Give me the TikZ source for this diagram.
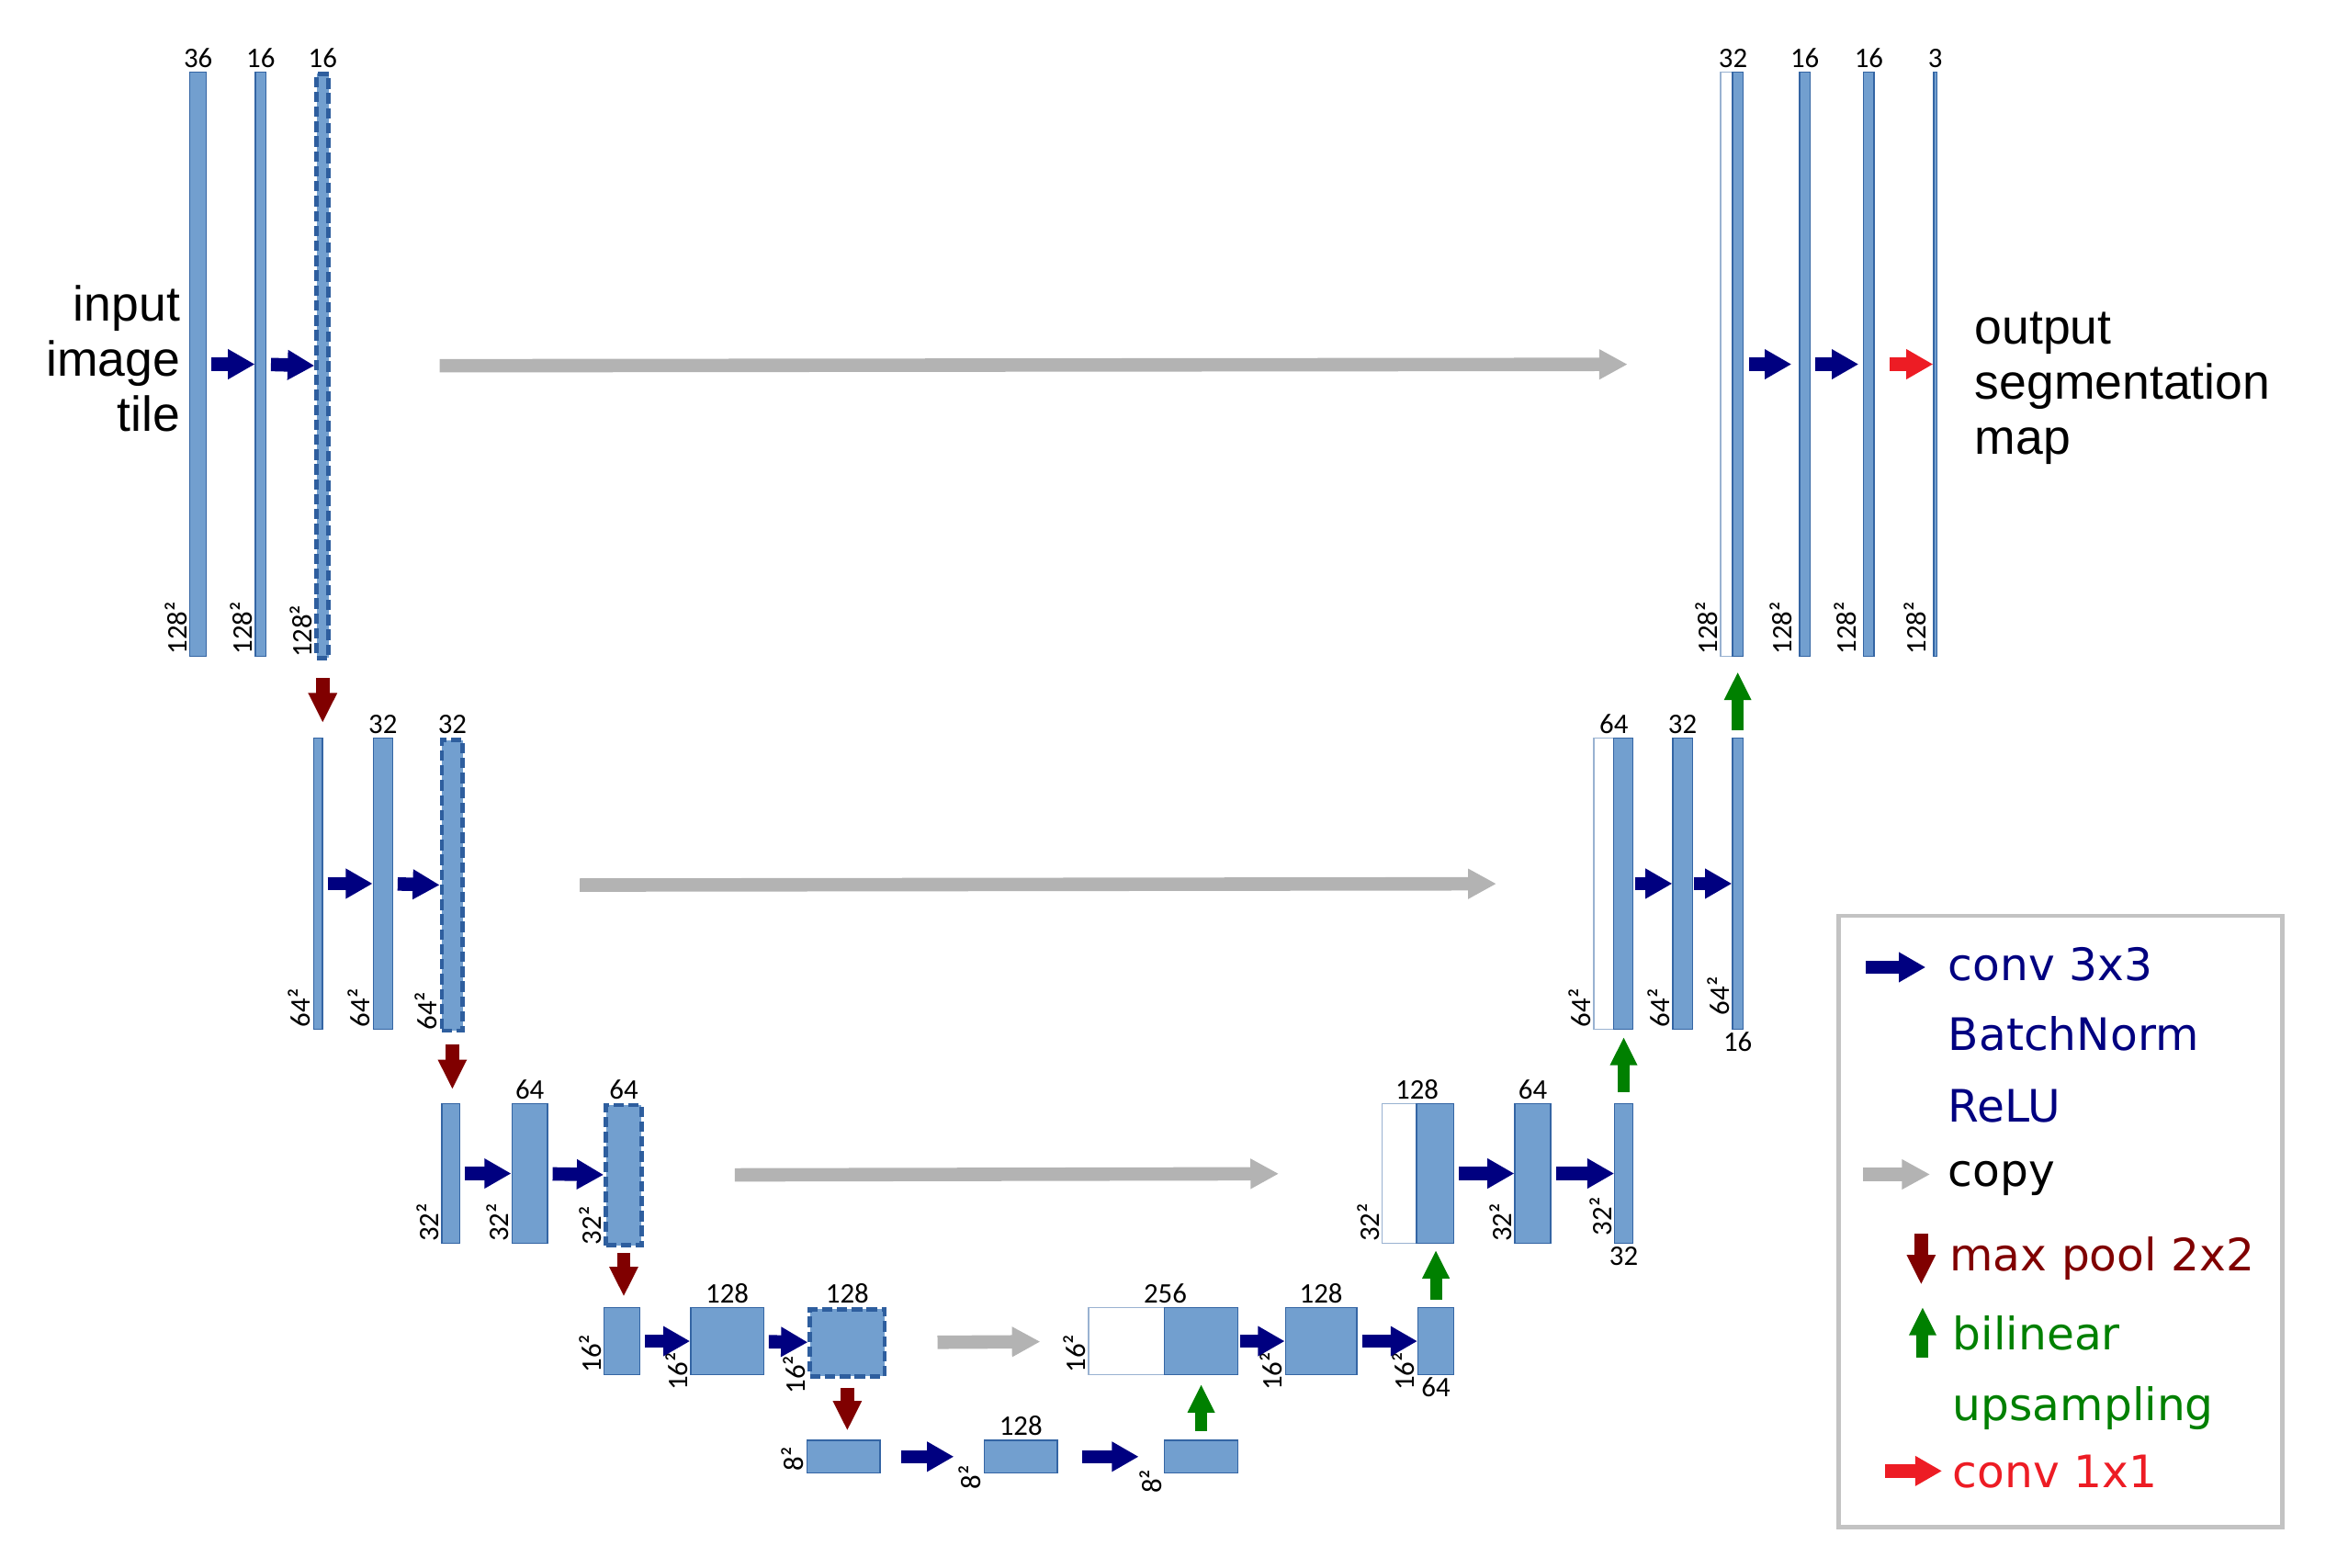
\documentclass[tikz,border=0pt]{standalone}
\usepackage{fontspec}
\setmainfont{Liberation Sans}
\newfontfamily\numfont{Carlito}
\newfontfamily\legfont{DejaVu Sans}
\usetikzlibrary{arrows.meta,positioning}
\definecolor{barfill}{HTML}{729FCF}
\definecolor{barline}{HTML}{3465A4}
\definecolor{dashblue}{HTML}{2E5E9E}
\definecolor{convblue}{HTML}{000080}
\definecolor{pooldark}{HTML}{800000}
\definecolor{upgreen}{HTML}{008000}
\definecolor{outred}{HTML}{ED1C24}
\definecolor{copygray}{HTML}{B3B3B3}
\definecolor{legline}{HTML}{C3C3C3}
\tikzset{
  fmap/.style={draw=barline, fill=barfill, line width=0.8pt, inner sep=0pt, anchor=north west},
  keep/.style={fmap, draw=dashblue, line width=3pt, dash pattern=on 7pt off 3pt},
  cpybox/.style={fmap, draw=barline!50, fill=white},
  row1/.style={minimum height=392},
  row2/.style={minimum height=195},
  row3/.style={minimum height=94},
  row4/.style={minimum height=45},
  row5/.style={minimum height=22},
  num/.style={font=\numfont\fontsize{19}{20}\selectfont, inner sep=2.5pt},
  dimlab/.style={num, rotate=90, anchor=south west, inner sep=1.5pt},
  conv/.style={draw=convblue, line width=9pt, -{Triangle[length=18pt,width=19pt]}, shorten <=3pt},
  outconv/.style={conv, draw=outred},
  copyarr/.style={draw=copygray, line width=9pt, -{Triangle[length=19pt,width=19pt]}},
  pool/.style={draw=pooldark, line width=9pt, -{Triangle[length=20pt,width=18pt]}},
  upsam/.style={draw=upgreen, line width=8pt, -{Triangle[length=19pt,width=17pt]}},
  bigtxt/.style={font=\fontsize{33}{37}\selectfont, inner sep=0pt},
  legtxt/.style={font=\legfont\fontsize{30}{36}\selectfont, inner sep=0pt, anchor=base west},
}

\begin{document}
\begin{tikzpicture}[x=1pt,y=-1pt]
  \useasboundingbox (0,0) rectangle (1568,1052);

  %encoder, level 1
  \node[fmap,row1,minimum width=11] (e1a) at (127,48) {};
  \node[fmap,row1,minimum width=7] (e1b) at (171,48) {};
  \node[keep,row1,minimum width=8] (e1c) at (211,48) {};
  \node[num,above] (n1a) at (e1a.north) {36};
  \node[num,above] (n1b) at (e1b.north) {16};
  \node[num,above] (n1c) at (e1c.north) {16};
  \node[dimlab] (s1a) at (e1a.south west) {128²};
  \node[dimlab] (s1b) at (e1b.south west) {128²};
  \node[dimlab] (s1c) at (e1c.south west) {128²};
  \node[bigtxt,align=right,anchor=east] (intile) at ([xshift=-6pt,yshift=4pt]e1a.west) {input\\image\\tile};

  %encoder, level 2
  \node[fmap,row2,minimum width=6] (e2a) at (210,495) {};
  \node[fmap,row2,minimum width=13] (e2b) at (250,495) {};
  \node[keep,row2,minimum width=14] (e2c) at (295,495) {};
  \node[num,above] (n2b) at (e2b.north) {32};
  \node[num,above] (n2c) at (e2c.north) {32};
  \node[dimlab] (s2a) at (e2a.south west) {64²};
  \node[dimlab] (s2b) at (e2b.south west) {64²};
  \node[dimlab] (s2c) at (e2c.south west) {64²};

  %encoder, level 3
  \node[fmap,row3,minimum width=12] (e3a) at (296,740) {};
  \node[fmap,row3,minimum width=24] (e3b) at (343,740) {};
  \node[keep,row3,minimum width=24] (e3c) at (405,740) {};
  \node[num,above] (n3b) at (e3b.north) {64};
  \node[num,above] (n3c) at (e3c.north) {64};
  \node[dimlab] (s3a) at (e3a.south west) {32²};
  \node[dimlab] (s3b) at (e3b.south west) {32²};
  \node[dimlab] (s3c) at (e3c.south west) {32²};

  %encoder, level 4
  \node[fmap,row4,minimum width=24] (e4a) at (405,877) {};
  \node[fmap,row4,minimum width=49] (e4b) at (463,877) {};
  \node[keep,row4,minimum width=50] (e4c) at (542,877) {};
  \node[num,above] (n4b) at (e4b.north) {128};
  \node[num,above] (n4c) at (e4c.north) {128};
  \node[dimlab] (s4a) at (e4a.south west) {16²};
  \node[dimlab] (s4b) at ([yshift=-12pt]e4b.south west) {16²};
  \node[dimlab] (s4c) at ([yshift=-12pt]e4c.south west) {16²};

  %bottom level
  \node[fmap,row5,minimum width=49] (b5a) at (541,966) {};
  \node[fmap,row5,minimum width=49] (b5b) at (660,966) {};
  \node[fmap,row5,minimum width=49] (b5c) at (781,966) {};
  \node[num,above] (n5b) at (b5b.north) {128};
  \node[dimlab] (s5a) at (b5a.south west) {8²};
  \node[dimlab] (s5b) at ([yshift=-12pt]b5b.south west) {8²};
  \node[dimlab] (s5c) at ([yshift=-15pt]b5c.south west) {8²};

  %decoder, level 4
  \node[cpybox,row4,minimum width=51] (d4w) at (730,877) {};
  \node[fmap,row4,minimum width=49] (d4a) at (781,877) {};
  \node[fmap,row4,minimum width=48] (d4b) at (862,877) {};
  \node[fmap,row4,minimum width=24] (d4c) at (951,877) {};
  \node[num,above] (n4w) at (d4w.north east) {256};
  \node[num,above] (n4d) at (d4b.north) {128};
  \node[num,below,inner sep=1.5pt] (n4e) at (d4c.south) {64};
  \node[dimlab] (s4w) at (d4w.south west) {16²};
  \node[dimlab] (s4d) at ([yshift=-12pt]d4b.south west) {16²};
  \node[dimlab] (s4e) at ([yshift=-12pt]d4c.south west) {16²};

  %decoder, level 3
  \node[cpybox,row3,minimum width=23] (d3w) at (927,740) {};
  \node[fmap,row3,minimum width=25] (d3a) at (950,740) {};
  \node[fmap,row3,minimum width=24] (d3b) at (1016,740) {};
  \node[fmap,row3,minimum width=12] (d3c) at (1083,740) {};
  \node[num,above] (n3w) at (d3w.north east) {128};
  \node[num,above] (n3d) at (d3b.north) {64};
  \node[num,below,inner sep=1.5pt] (n3e) at (d3c.south) {32};
  \node[dimlab] (s3w) at (d3w.south west) {32²};
  \node[dimlab] (s3d) at (d3b.south west) {32²};
  \node[dimlab] (s3e) at ([yshift=4pt]d3c.south west) {32²};

  %decoder, level 2
  \node[cpybox,row2,minimum width=13] (d2w) at (1069,495) {};
  \node[fmap,row2,minimum width=13] (d2a) at (1082,495) {};
  \node[fmap,row2,minimum width=13] (d2b) at (1122,495) {};
  \node[fmap,row2,minimum width=7] (d2c) at (1162,495) {};
  \node[num,above] (n2w) at (d2w.north east) {64};
  \node[num,above] (n2d) at (d2b.north) {32};
  \node[num,below,inner sep=1.5pt] (n2e) at (d2c.south) {16};
  \node[dimlab] (s2w) at (d2w.south west) {64²};
  \node[dimlab] (s2d) at (d2b.south west) {64²};
  \node[dimlab] (s2e) at ([yshift=8pt]d2c.south west) {64²};

  %decoder, level 1
  \node[cpybox,row1,minimum width=8] (d1w) at (1154,48) {};
  \node[fmap,row1,minimum width=7] (d1a) at (1162,48) {};
  \node[fmap,row1,minimum width=7] (d1b) at (1207,48) {};
  \node[fmap,row1,minimum width=7] (d1c) at (1250,48) {};
  \node[fmap,row1,minimum width=2] (outmap) at (1297,48) {};
  \node[num,above] (n1w) at (d1w.north east) {32};
  \node[num,above] (n1d) at (d1b.north) {16};
  \node[num,above] (n1e) at (d1c.north) {16};
  \node[num,above] (n1o) at (outmap.north) {3};
  \node[dimlab] (s1w) at (d1w.south west) {128²};
  \node[dimlab] (s1d) at ([xshift=-3pt]d1b.south west) {128²};
  \node[dimlab] (s1e) at ([xshift=-3pt]d1c.south west) {128²};
  \node[dimlab] (s1o) at ([xshift=-3pt]outmap.south west) {128²};
  \node[bigtxt,align=left,anchor=west] (segmap) at ([xshift=25pt,yshift=-16pt]outmap.east) {output\\segmentation\\map};

  %conv 3x3
  \draw[conv] (e1a) -- (e1b);
  \draw[conv] (e1b) -- (e1c);
  \draw[conv] (e2a) -- (e2b);
  \draw[conv] (e2b) -- (e2c);
  \draw[conv] (e3a) -- (e3b);
  \draw[conv] (e3b) -- (e3c);
  \draw[conv] (e4a) -- (e4b);
  \draw[conv] (e4b) -- (e4c);
  \draw[conv,shorten <=14pt,shorten >=20pt] (b5a) -- (b5b);
  \draw[conv,shorten <=16pt,shorten >=17pt] (b5b) -- (b5c);
  \draw[conv,shorten <=1pt] (d4a) -- (d4b);
  \draw[conv] (d4b) -- (d4c);
  \draw[conv] (d3a) -- (d3b);
  \draw[conv] (d3b) -- (d3c);
  \draw[conv,shorten <=1pt] (d2a) -- (d2b);
  \draw[conv,shorten <=1pt] (d2b) -- (d2c);
  \draw[conv,shorten <=4pt,shorten >=5pt] (d1a) -- (d1b);
  \draw[conv,shorten >=3pt] (d1b) -- (d1c);
  \draw[outconv,shorten <=10pt] (d1c) -- (outmap);

  %copy
  \draw[copyarr,shorten <=73pt,shorten >=62pt] (e1c) -- (d1w);
  \draw[copyarr,shorten <=77pt,shorten >=65pt] (e2c) -- (d2w);
  \draw[copyarr,shorten <=61pt,shorten >=69pt] (e3c) -- (d3w);
  \draw[copyarr,shorten <=34pt,shorten >=32pt] (e4c) -- (d4w);

  %max pool
  \draw[pool,shorten <=12pt,shorten >=10pt] (e1c.south) -- (e1c.south |- e2a.north);
  \draw[pool,shorten <=8pt,shorten >=9pt] (e2c.south) -- (e2c.south |- e3a.north);
  \draw[pool,shorten <=4pt,shorten >=7pt] (e3c.south) -- (e3c.south |- e4a.north);
  \draw[pool,shorten <=6pt,shorten >=6pt] (e4c.south) -- (e4c.south |- b5a.north);

  %upsampling
  \draw[upsam,shorten <=6pt,shorten >=6pt] (b5c.north) -- (b5c.north |- d4a.south);
  \draw[upsam,shorten <=5pt,shorten >=4pt] (d4c.north) -- (d4c.north |- d3a.south);
  \draw[upsam,shorten <=7pt,shorten >=5pt] (d3c.north) -- (d3c.north |- d2a.south);
  \draw[upsam,shorten <=5pt,shorten >=10pt] (d2c.north) -- (d2c.north |- d1a.south);

  %legend
  \node[draw=legline,line width=3pt,minimum width=298,minimum height=410,inner sep=0pt,anchor=north west] (legend) at (1232,613) {};
  \node[legtxt,text=convblue] (lg1) at (1307,658) {conv 3x3};
  \node[legtxt,text=convblue] (lg2) at (1307,705) {BatchNorm};
  \node[legtxt,text=convblue] (lg3) at (1307,753) {ReLU};
  \node[legtxt] (lg4) at (1307,796) {copy};
  \node[legtxt,text=pooldark] (lg5) at (1308,853) {max pool 2x2};
  \node[legtxt,text=upgreen] (lg6) at (1310,906) {bilinear};
  \node[legtxt,text=upgreen] (lg7) at (1310,953) {upsampling};
  \node[legtxt,text=outred] (lg8) at (1310,998) {conv 1x1};
  \coordinate (kconv) at (1252,649);
  \coordinate (kcopy) at (1250,788);
  \coordinate (kpool) at (1289,828);
  \coordinate (kup) at (1290,911);
  \coordinate (kout) at (1265,987);
  \draw[conv,shorten <=0pt] (kconv) -- ([xshift=40pt]kconv);
  \draw[copyarr] (kcopy) -- ([xshift=45pt]kcopy);
  \draw[pool] (kpool) -- ([yshift=-34pt]kpool);
  \draw[upsam] (kup) -- ([yshift=34pt]kup);
  \draw[outconv,shorten <=0pt] (kout) -- ([xshift=38pt]kout);
\end{tikzpicture}
\end{document}
